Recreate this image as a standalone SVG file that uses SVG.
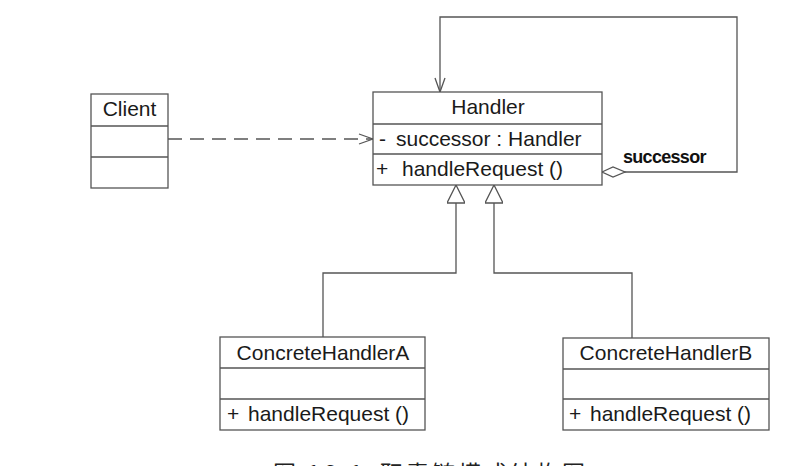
<svg xmlns="http://www.w3.org/2000/svg" width="811" height="466" viewBox="0 0 811 466">
<style>
.box{fill:#fff;stroke:#555;stroke-width:1.3}
.sep{stroke:#555;stroke-width:1.3}
.t{font-family:"Liberation Sans",Arial,sans-serif;font-size:21px;fill:#1a1a1a}
.c{text-anchor:middle}
.ln{fill:none;stroke:#555;stroke-width:1.3}
.lbl{font-family:"Liberation Sans",Arial,sans-serif;font-size:18px;font-weight:bold;fill:#111;letter-spacing:-0.7px}
.cap{font-family:"Noto Sans CJK SC","Liberation Serif",serif;font-size:23px;fill:#222;letter-spacing:3px}
</style>
<defs>
<marker id="open" markerWidth="16" markerHeight="12" refX="15" refY="6" orient="auto" markerUnits="userSpaceOnUse">
<path d="M1,1 L15,6 L1,11" fill="none" stroke="#555" stroke-width="1.3"/>
</marker>
<marker id="tri" markerWidth="20" markerHeight="18" refX="19" refY="9" orient="auto" markerUnits="userSpaceOnUse">
<path d="M1,0 L19,9 L1,18 Z" fill="#fff" stroke="#555" stroke-width="1.3"/>
</marker>
<marker id="dia" markerWidth="26" markerHeight="12" refX="1" refY="6" orient="auto" markerUnits="userSpaceOnUse">
<path d="M1,6 L12,1 L24,6 L12,11 Z" fill="#fff" stroke="#555" stroke-width="1.3"/>
</marker>
</defs>
<g id="connectors">
<line class="ln" x1="168" y1="139" x2="373" y2="139" stroke-dasharray="14,8" marker-end="url(#open)"/>
<polyline class="ln" points="602,172 737,172 737,17 440,17 440,92" marker-start="url(#dia)" marker-end="url(#open)"/>
<polyline class="ln" points="323,337 323,273 456,273 456,185" marker-end="url(#tri)"/>
<polyline class="ln" points="632,338 632,273 494,273 494,185" marker-end="url(#tri)"/>
<text class="lbl" x="623" y="163">successor</text>
</g>
<g id="client">
<rect class="box" x="91" y="94" width="77" height="94"/>
<line class="sep" x1="91" y1="126" x2="168" y2="126"/>
<line class="sep" x1="91" y1="157" x2="168" y2="157"/>
<text class="t c" x="129.5" y="116">Client</text>
</g>
<g id="handler">
<rect class="box" x="373" y="92" width="229" height="93"/>
<line class="sep" x1="373" y1="124" x2="602" y2="124"/>
<line class="sep" x1="373" y1="154" x2="602" y2="154"/>
<text class="t c" x="488" y="114">Handler</text>
<text class="t" x="379" y="146">-<tspan x="396">successor : Handler</tspan></text>
<text class="t" x="376" y="176">+<tspan x="402">handleRequest ()</tspan></text>
</g>
<g id="concreteA">
<rect class="box" x="220" y="337" width="205" height="93"/>
<line class="sep" x1="220" y1="368" x2="425" y2="368"/>
<line class="sep" x1="220" y1="399" x2="425" y2="399"/>
<text class="t c" x="323" y="360">ConcreteHandlerA</text>
<text class="t" x="227" y="421">+<tspan x="248">handleRequest ()</tspan></text>
</g>
<g id="concreteB">
<rect class="box" x="563" y="338" width="206" height="92"/>
<line class="sep" x1="563" y1="369" x2="769" y2="369"/>
<line class="sep" x1="563" y1="399" x2="769" y2="399"/>
<text class="t c" x="666" y="360">ConcreteHandlerB</text>
<text class="t" x="569" y="421">+<tspan x="590">handleRequest ()</tspan></text>
</g>
<text class="cap" x="273" y="482">图 16-1<tspan x="380">职责链模式结构图</tspan></text>
</svg>
